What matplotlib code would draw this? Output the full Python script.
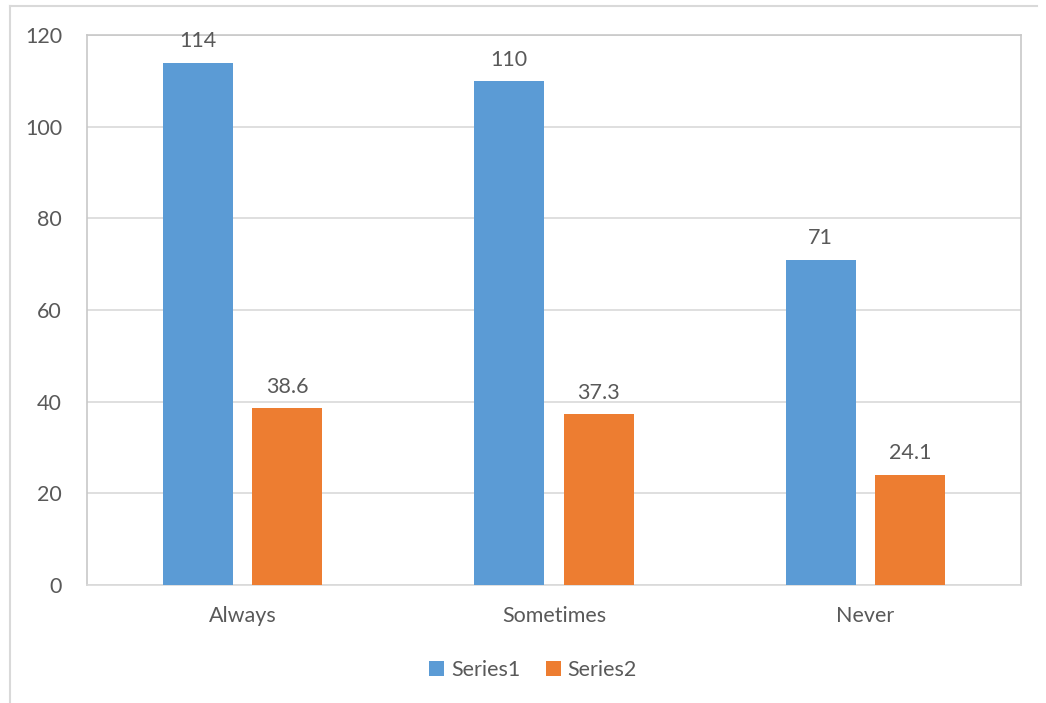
import numpy as np
import matplotlib
matplotlib.use("Agg")
import matplotlib.pyplot as plt
from matplotlib.lines import Line2D

categories = ["Always", "Sometimes", "Never"]
series1 = [114, 110, 71]
series2 = [38.6, 37.3, 24.1]
series_names = ["Series1", "Series2"]

BLUE = "#5B9BD5"
ORANGE = "#ED7D31"
TEXT = "#595959"
GRID = "#D9D9D9"
FS = 15.5

plt.rcParams['font.family'] = ['Lato', 'DejaVu Sans']

W, H = 1046, 703
fig = plt.figure(figsize=(W / 100, H / 100), dpi=100)
fig.patch.set_facecolor("white")

# outer chart border (only left and top visible)
fig.add_artist(Line2D([10 / W, 10 / W], [0, 1 - 6 / H], color=GRID, lw=1.5))
fig.add_artist(Line2D([10 / W, 1037 / W], [1 - 6 / H, 1 - 6 / H], color=GRID, lw=1.5))

left, right, top, bottom = 87, 1021, 35, 585
ax = fig.add_axes([left / W, 1 - bottom / H, (right - left) / W, (bottom - top) / H])

x = np.arange(len(categories))
width = 0.225
offset = 0.1436
b1 = ax.bar(x - offset, series1, width, color=BLUE, label=series_names[0], zorder=3)
b2 = ax.bar(x + offset, series2, width, color=ORANGE, label=series_names[1], zorder=3)

for bars, vals in ((b1, series1), (b2, series2)):
    for rect, v in zip(bars, vals):
        ax.annotate(f"{v:g}", (rect.get_x() + rect.get_width() / 2, rect.get_height()),
                    xytext=(0, 8), textcoords="offset points", ha="center", va="bottom",
                    fontsize=FS, color=TEXT, zorder=4)

ax.set_xlim(-0.5, 2.5)
ax.set_ylim(0, 120)
ax.set_yticks(range(0, 121, 20))
ax.set_xticks(x)
ax.set_xticklabels(categories)
ax.grid(axis="y", color=GRID, lw=1.2, zorder=0)
ax.tick_params(axis="both", length=0, labelsize=FS, labelcolor=TEXT)
ax.tick_params(axis="x", pad=15)
ax.tick_params(axis="y", pad=18)
for s in ax.spines.values():
    s.set_color("#C8C8C8")
    s.set_linewidth(1.2)
ax.spines["bottom"].set_color(GRID)

fig.legend(handles=[b1, b2], loc="center", bbox_to_anchor=(533 / W, 1 - 670 / H),
           ncol=2, frameon=False, fontsize=FS, labelcolor=TEXT,
           handlelength=0.7, handleheight=0.7, handletextpad=0.3, columnspacing=1.2)

fig.savefig("out.png", dpi=100)
